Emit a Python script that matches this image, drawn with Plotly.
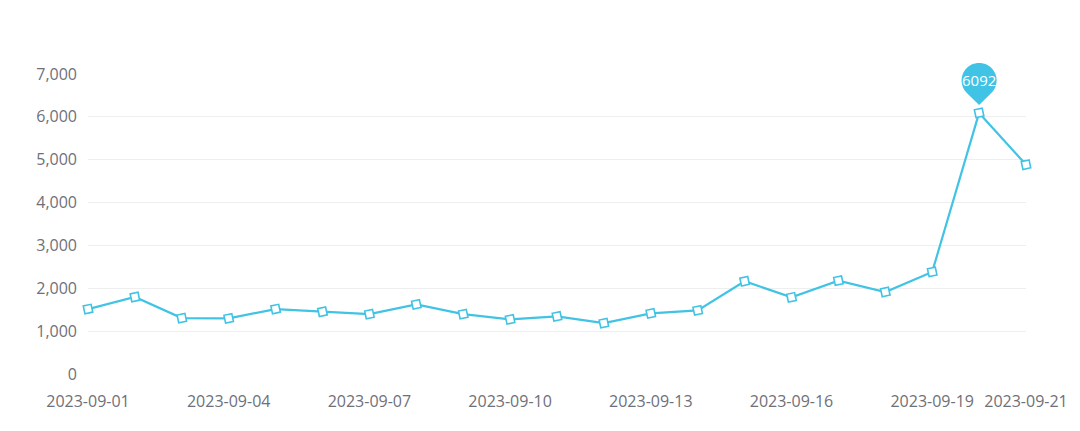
import numpy as np
import plotly.graph_objects as go

dates = ["2023-09-%02d" % d for d in range(1, 22)]
values = [1515, 1796, 1304, 1297, 1515, 1452, 1398, 1625, 1398, 1274,
          1344, 1187, 1414, 1485, 2164, 1789, 2178, 1913, 2382, 6092, 4884]
y_ticks = [0, 1000, 2000, 3000, 4000, 5000, 6000, 7000]
x_tick_labels = dates[::3] + [dates[-1]]

LINE = "#40C3E4"
TXT = "#6E7079"
GRID = "#EEEEEE"
FONT = "Open Sans, Noto Sans, sans-serif"
Y_MAX = y_ticks[-1]

fig = go.Figure()
fig.add_trace(go.Scatter(
    x=dates, y=values, mode="lines+markers",
    line=dict(color=LINE, width=2.2),
    marker=dict(symbol="square", size=8, color="white", angle=-12,
                line=dict(color=LINE, width=1.6)),
    cliponaxis=False, hoverinfo="x+y",
))

# pin marker at max value
imax = int(np.argmax(values))
r, cy, tip = 17.5, 32.5, 8.0
a = np.degrees(np.arccos(r / (cy - tip)))
angs = np.radians(np.linspace(-90 + a, 270 - a, 72))
pts = [(0.0, tip)] + [(r * np.cos(t), cy + r * np.sin(t)) for t in angs]
path = "M " + " L ".join("%.2f,%.2f" % p for p in pts) + " Z"
fig.add_shape(type="path", xref="x", yref="paper", xsizemode="pixel", ysizemode="pixel",
              xanchor=dates[imax], yanchor=values[imax] / Y_MAX, path=path,
              fillcolor=LINE, line=dict(width=0), layer="above")
fig.add_annotation(x=dates[imax], y=values[imax], text=str(values[imax]),
                   showarrow=False, yshift=cy, font=dict(color="white", size=15, family=FONT))

fig.update_layout(
    width=1072, height=423,
    margin=dict(l=80, r=50, t=66, b=57),
    paper_bgcolor="white", plot_bgcolor="white",
    showlegend=False,
    font=dict(family=FONT, size=16, color=TXT),
)
fig.update_xaxes(type="category", range=[0, len(dates) - 1],
                 tickvals=x_tick_labels, ticktext=x_tick_labels,
                 showgrid=False, showline=False, zeroline=False,
                 ticks="", ticklabelstandoff=16,
                 tickfont=dict(size=16, color=TXT))
fig.update_yaxes(range=[0, Y_MAX], tickvals=y_ticks, tickformat=",d",
                 showgrid=True, gridcolor=GRID, gridwidth=1,
                 showline=False, zeroline=False, ticks="", ticklabelstandoff=10,
                 tickfont=dict(size=16, color=TXT))

fig.write_html("out.html")
